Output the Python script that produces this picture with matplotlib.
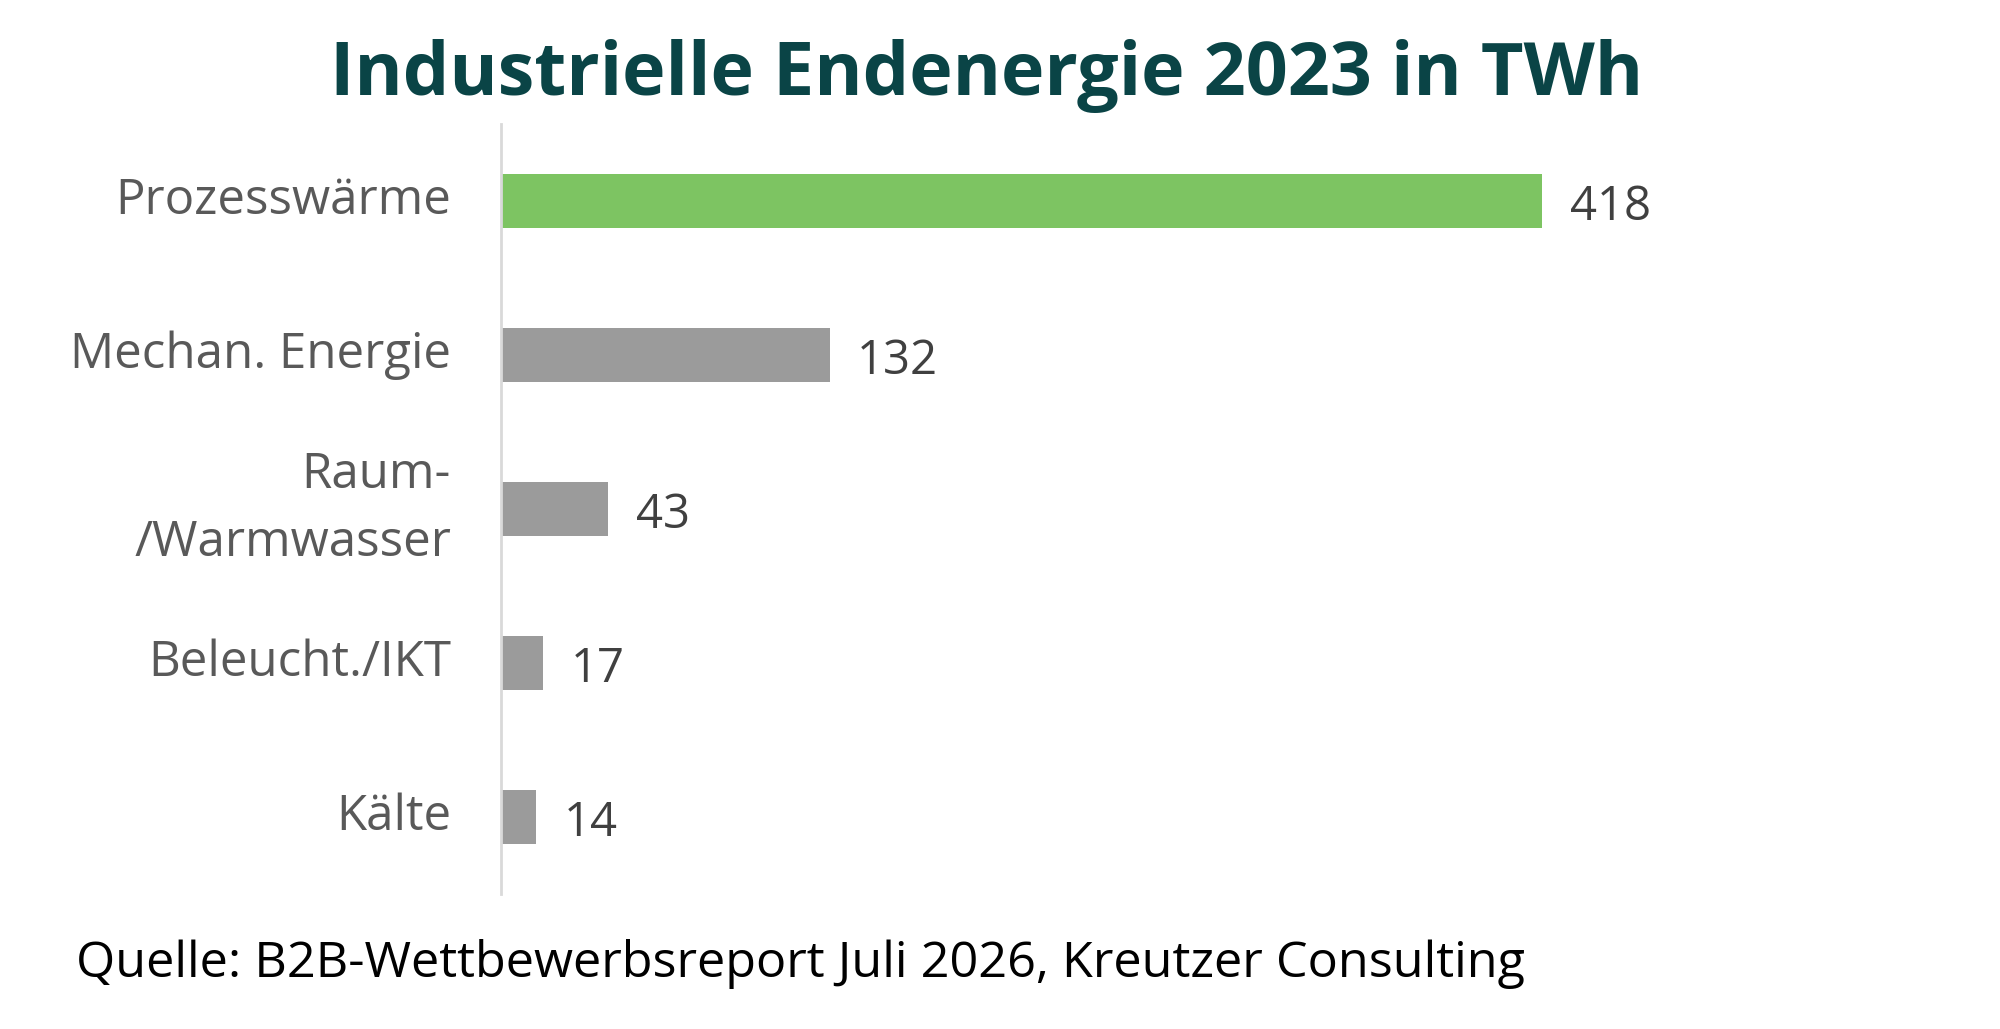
import matplotlib
matplotlib.use('Agg')
import matplotlib.pyplot as plt

# Data
categories = ['Prozesswärme', 'Mechan. Energie', 'Raum-\n/Warmwasser', 'Beleucht./IKT', 'Kälte']
values = [418, 132, 43, 17, 14]
bar_colors = ['#7DC462', '#9B9B9B', '#9B9B9B', '#9B9B9B', '#9B9B9B']

TITLE_COLOR = '#0A4446'
LABEL_COLOR = '#595959'
VALUE_COLOR = '#404040'
FONT = 'Open Sans'

W, H = 2000, 1029
fig = plt.figure(figsize=(W / 100, H / 100), dpi=100)
fig.patch.set_facecolor('white')

# axes placed in pixel terms
left, right, top, bottom = 501, 1754, 124, 894
ax = fig.add_axes([left / W, 1 - bottom / H, (right - left) / W, (bottom - top) / H])

y = list(range(len(categories)))
ax.barh(y, values, height=0.35, color=bar_colors)
ax.set_ylim(len(categories) - 0.5, -0.5)
ax.set_xlim(0, 503)

ax.set_yticks(y)
ax.set_yticklabels(categories, fontsize=35.5, color=LABEL_COLOR, family=FONT,
                   linespacing=1.5)
for lab in ax.get_yticklabels():
    lab.set_verticalalignment('center')
ax.tick_params(axis='y', length=0, pad=36)
ax.set_xticks([])

for s in ['top', 'right', 'bottom']:
    ax.spines[s].set_visible(False)
ax.spines['left'].set_color('#D9D9D9')
ax.spines['left'].set_linewidth(2)

for i, v in enumerate(values):
    ax.text(v + 11, i + 0.04, f'{v}', va='center', ha='left', fontsize=34,
            color=VALUE_COLOR, family=FONT)

fig.text(987 / W, 1 - 76 / H, 'Industrielle Endenergie 2023 in TWh', ha='center',
         va='center', fontsize=53, fontweight='bold', color=TITLE_COLOR, family=FONT)

fig.text(76 / W, 1 - 964 / H, 'Quelle: B2B-Wettbewerbsreport Juli 2026, Kreutzer Consulting',
         ha='left', va='center', fontsize=36.3, color='black', family=FONT)

fig.savefig('out.png', dpi=100, facecolor='white')
